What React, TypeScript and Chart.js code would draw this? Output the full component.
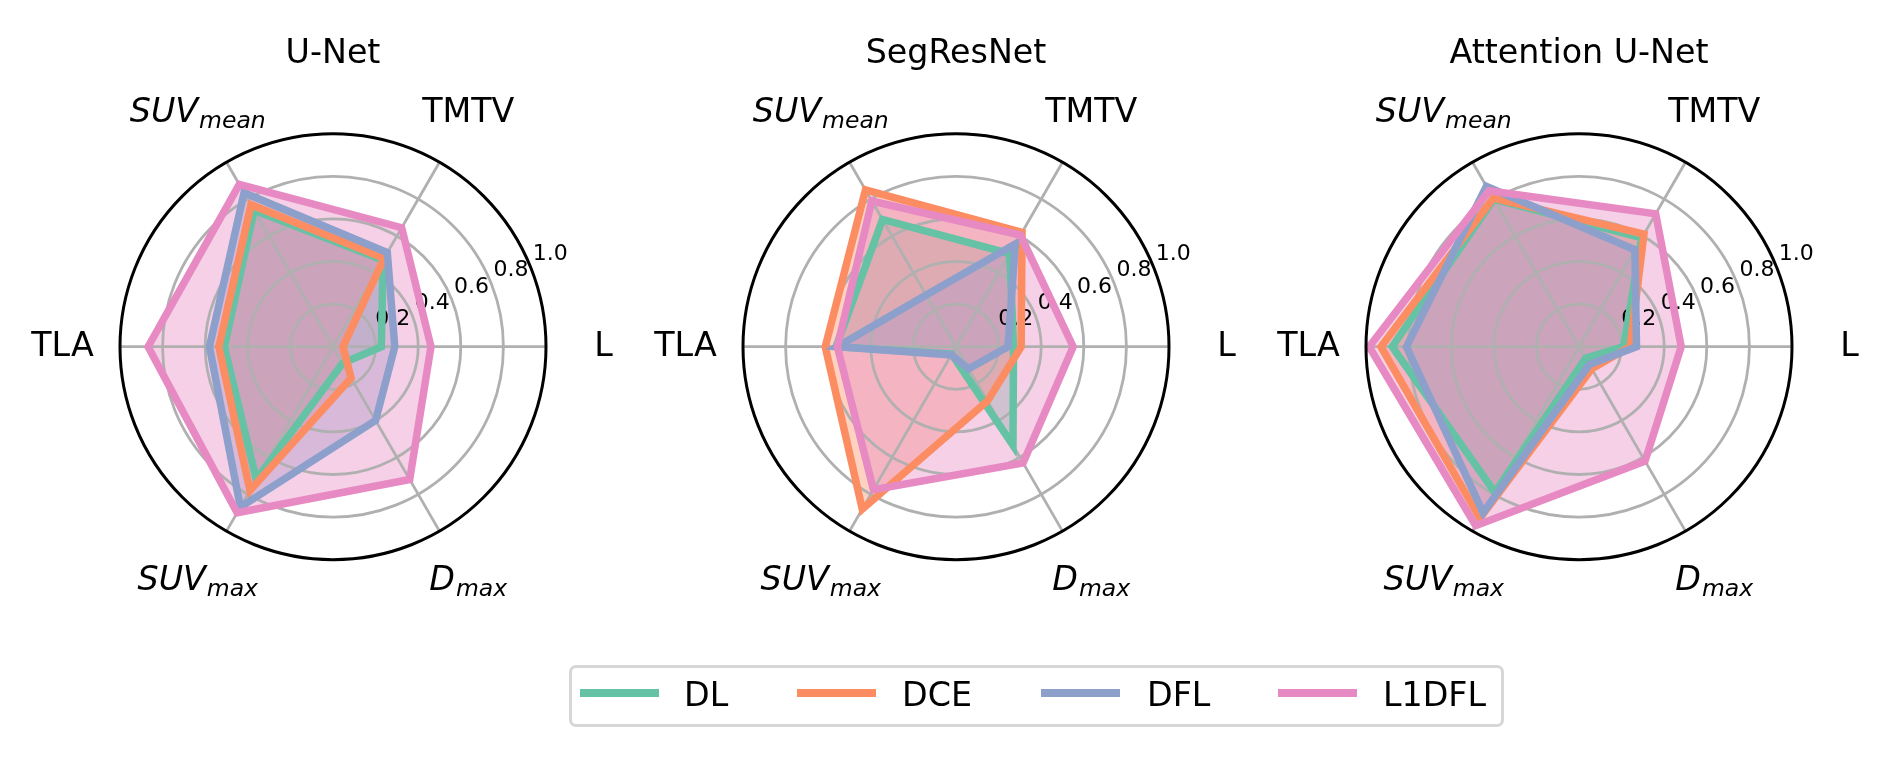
import React, { useEffect, useRef } from 'react';
import { Chart, registerables } from 'chart.js';

Chart.register(...registerables);

// ---------------- data ----------------
const CATEGORIES = ['L', 'TMTV', 'SUV_mean', 'TLA', 'SUV_max', 'D_max'];
const MODELS = ['U-Net', 'SegResNet', 'Attention U-Net'];
const SERIES = ['DL', 'DCE', 'DFL', 'L1DFL'];
const COLORS = ['#66c2a5', '#fc8d62', '#8da0cb', '#e78ac3'];
const RADIAL_TICKS = [0.2, 0.4, 0.6, 0.8, 1.0];
const TICK_LABELS = ['0.2', '0.4', '0.6', '0.8', '1.0'];

// values in CATEGORIES order: L, TMTV, SUV_mean, TLA, SUV_max, D_max
const UNET_DL = [0.227, 0.47, 0.74, 0.51, 0.72, 0.09];
const UNET_DCE = [0.047, 0.48, 0.77, 0.536, 0.78, 0.17];
const UNET_DFL = [0.29, 0.51, 0.835, 0.58, 0.87, 0.4];
const UNET_L1DFL = [0.46, 0.645, 0.88, 0.868, 0.9, 0.72];

const SEGRES_DL = [0.27, 0.505, 0.69, 0.563, 0.04, 0.535];
const SEGRES_DCE = [0.306, 0.62, 0.85, 0.614, 0.88, 0.295];
const SEGRES_DFL = [0.244, 0.557, 0.28, 0.557, 0.045, 0.12];
const SEGRES_L1DFL = [0.55, 0.605, 0.79, 0.557, 0.775, 0.63];

const ATTN_DL = [0.21, 0.59, 0.8, 0.877, 0.79, 0.062];
const ATTN_DCE = [0.24, 0.61, 0.805, 0.93, 0.93, 0.12];
const ATTN_DFL = [0.27, 0.525, 0.87, 0.81, 0.9, 0.097];
const ATTN_L1DFL = [0.48, 0.72, 0.845, 0.985, 0.97, 0.62];

const MODEL_VALUES = [
  [UNET_DL, UNET_DCE, UNET_DFL, UNET_L1DFL],
  [SEGRES_DL, SEGRES_DCE, SEGRES_DFL, SEGRES_L1DFL],
  [ATTN_DL, ATTN_DCE, ATTN_DFL, ATTN_L1DFL],
];

// ---------------- layout / style ----------------
const W = 1889;
const H = 757;
const CENTERS_X = [333, 956, 1579];
const CENTER_Y = 346.7;
const RADIUS = 213;
const FONT = "'DejaVu Sans', 'Liberation Sans', sans-serif";
const FS = 33.3;
const SUB_FS = 23.5;
const TICK_FS = 22;
const GRID = '#b0b0b0';
const LINE_W = 7.5;
const FILL_ALPHA = 0.4;
// Chart.js runs clockwise from startAngle; matplotlib ran counter-clockwise from east
const CLOCKWISE = [0, 5, 4, 3, 2, 1];

function hexToRgba(hex: string, a: number) {
  const n = parseInt(hex.slice(1), 16);
  return `rgba(${(n >> 16) & 255},${(n >> 8) & 255},${n & 255},${a})`;
}

function drawCategory(ctx: CanvasRenderingContext2D, text: string, cx: number, cy: number) {
  const parts = text.split('_');
  ctx.textAlign = 'left';
  ctx.textBaseline = 'alphabetic';
  ctx.fillStyle = '#000';
  if (parts.length === 1) {
    ctx.font = `${FS}px ${FONT}`;
    const w = ctx.measureText(text).width;
    ctx.fillText(text, cx - w / 2, cy + 9.2);
  } else {
    ctx.font = `italic ${FS}px ${FONT}`;
    const wb = ctx.measureText(parts[0]).width;
    ctx.font = `italic ${SUB_FS}px ${FONT}`;
    const ws = ctx.measureText(parts[1]).width;
    const gap = 1;
    const x0 = cx - (wb + gap + ws) / 2;
    const base = cy + 9.5;
    ctx.font = `italic ${FS}px ${FONT}`;
    ctx.fillText(parts[0], x0, base);
    ctx.font = `italic ${SUB_FS}px ${FONT}`;
    ctx.fillText(parts[1], x0 + wb + gap, base + 6);
  }
}

function makeDecor(title: string, labels: string[]) {
  return {
    id: 'decor',
    beforeDatasetsDraw(chart: any) {
      const s = chart.scales.r;
      const ctx: CanvasRenderingContext2D = chart.ctx;
      ctx.save();
      ctx.font = `${TICK_FS}px ${FONT}`;
      ctx.fillStyle = '#000';
      ctx.textAlign = 'left';
      ctx.textBaseline = 'alphabetic';
      const a = (22.5 * Math.PI) / 180;
      RADIAL_TICKS.forEach((v, i) => {
        const d = s.getDistanceFromCenterForValue(v);
        const x = s.xCenter + Math.cos(a) * d + 3;
        const y = s.yCenter - Math.sin(a) * d - 5;
        ctx.fillText(TICK_LABELS[i], x, y);
      });
      ctx.restore();
    },
    afterDatasetsDraw(chart: any) {
      const s = chart.scales.r;
      const ctx: CanvasRenderingContext2D = chart.ctx;
      ctx.save();
      // polar spine
      ctx.beginPath();
      ctx.arc(s.xCenter, s.yCenter, s.getDistanceFromCenterForValue(1), 0, Math.PI * 2);
      ctx.strokeStyle = '#000';
      ctx.lineWidth = 3;
      ctx.stroke();
      // category labels
      labels.forEach((lab, i) => {
        const p = s.getPointPosition(i, s.drawingArea * 1.27);
        drawCategory(ctx, lab, p.x, p.y);
      });
      // title
      ctx.font = `${FS}px ${FONT}`;
      ctx.fillStyle = '#000';
      ctx.textAlign = 'center';
      ctx.textBaseline = 'alphabetic';
      ctx.fillText(title, s.xCenter, 62.5);
      ctx.restore();
    },
  };
}

export default function App() {
  const refs = useRef<(HTMLCanvasElement | null)[]>([]);

  useEffect(() => {
    const charts: Chart[] = [];
    MODELS.forEach((model, m) => {
      const canvas = refs.current[m];
      if (!canvas) return;
      const labels = CLOCKWISE.map((i) => CATEGORIES[i]);
      const cx = CENTERS_X[m];
      const chart = new Chart(canvas, {
        type: 'radar',
        data: {
          labels,
          datasets: SERIES.map((name, k) => ({
            label: name,
            data: CLOCKWISE.map((i) => MODEL_VALUES[m][k][i]),
            borderColor: COLORS[k],
            backgroundColor: hexToRgba(COLORS[k], FILL_ALPHA),
            borderWidth: LINE_W,
            borderJoinStyle: 'miter',
            pointRadius: 0,
            pointHoverRadius: 0,
            fill: 'origin',
            order: SERIES.length - k,
          })),
        },
        options: {
          animation: false,
          responsive: false,
          maintainAspectRatio: false,
          events: [],
          layout: { padding: 0 },
          plugins: {
            legend: { display: false },
            tooltip: { enabled: false },
            filler: { drawTime: 'beforeDraw' },
          },
          scales: {
            r: {
              min: 0,
              max: 1,
              startAngle: 90,
              ticks: { display: false, stepSize: 0.2 },
              pointLabels: { display: false },
              grid: {
                circular: true,
                color: (c: any) => (c.tick && c.tick.value > 0.99 ? 'rgba(0,0,0,0)' : GRID),
                lineWidth: 2.8,
              },
              angleLines: { color: GRID, lineWidth: 2.8 },
              afterFit: (scale: any) => {
                scale.xCenter = cx;
                scale.yCenter = CENTER_Y;
                scale.drawingArea = RADIUS;
              },
            },
          },
        } as any,
        plugins: [makeDecor(model, labels)],
      });
      charts.push(chart);
    });
    return () => charts.forEach((c) => c.destroy());
  }, []);

  const legendX = [580, 797, 1041, 1278];
  const textX = [684, 902, 1147, 1383];

  return (
    <div style={{ position: 'absolute', left: 0, top: 0, width: W, height: H, background: '#fff', overflow: 'hidden' }}>
      {MODELS.map((m, i) => (
        <canvas
          key={m}
          ref={(el) => {
            refs.current[i] = el;
          }}
          width={W}
          height={H}
          style={{ position: 'absolute', left: 0, top: 0, width: W, height: H }}
        />
      ))}
      <div
        style={{
          position: 'absolute',
          left: 569,
          top: 665,
          width: 935,
          height: 62,
          boxSizing: 'border-box',
          border: '3px solid #d6d6d6',
          borderRadius: 7,
          background: 'rgba(255,255,255,0.8)',
        }}
      />
      {SERIES.map((name, k) => (
        <React.Fragment key={name}>
          <div
            style={{
              position: 'absolute',
              left: legendX[k],
              top: 688.7,
              width: 79,
              height: 8,
              background: COLORS[k],
            }}
          />
          <div
            style={{
              position: 'absolute',
              left: textX[k],
              top: 677.8,
              fontFamily: FONT,
              fontSize: FS,
              lineHeight: `${FS}px`,
              whiteSpace: 'nowrap',
              color: '#000',
            }}
          >
            {name}
          </div>
        </React.Fragment>
      ))}
    </div>
  );
}
